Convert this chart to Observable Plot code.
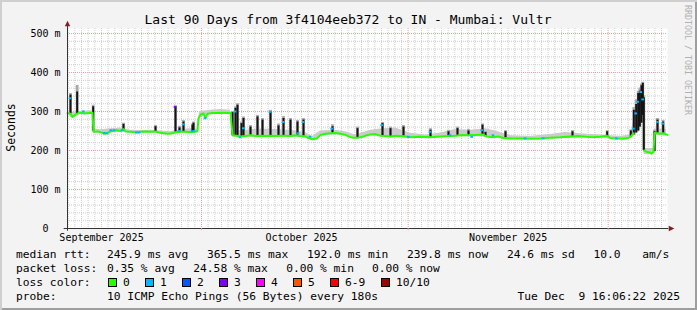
<!DOCTYPE html>
<html>
<head>
<meta charset="utf-8">
<script src="https://cdn.jsdelivr.net/npm/d3@7"></script>
<script src="https://cdn.jsdelivr.net/npm/@observablehq/plot@0.6"></script>
<style>
html, body { margin: 0; padding: 0; background: #ffffff; }
#frame {
  position: relative; width: 697px; height: 310px; overflow: hidden;
  background: #f3f3f3;
  box-shadow: inset 2px 2px 0 #cfcfcf, inset -2px -2px 0 #9e9e9e;
}
#frame svg { position: absolute; left: 0; top: 0; }
</style>
</head>
<body>
<div id="frame"></div>
<script>
// ---------------- data ----------------
const graphStartUTC = Date.UTC(2025, 8, 10, 21, 36); // left edge of the 90-day window
const spanDays = 90;

// median rtt line (day offset from graph start, ms); NaN = gap
const medianDay = [0.0,0.45,0.75,1.05,1.35,1.8,2.55,3.15,3.75,3.9,4.5,4.95,5.55,6.0,6.6,7.35,7.95,8.4,8.7,9.45,10.2,10.95,11.7,12.45,13.2,13.65,14.4,15.15,15.75,16.2,16.95,17.7,18.45,19.2,19.5,19.65,19.95,20.4,20.7,21.0,21.75,22.5,23.25,24.0,24.45,24.75,25.35,25.95,26.7,27.45,28.2,28.95,29.7,30.45,31.2,31.95,32.7,33.45,34.2,34.95,35.7,36.15,36.75,37.35,37.95,38.7,39.45,40.2,40.95,41.7,42.15,42.75,43.65,44.25,44.85,45.45,46.2,46.95,47.7,48.45,49.2,49.95,50.7,51.45,52.95,54.45,55.95,57.15,58.2,59.25,60.15,61.2,62.25,62.85,63.75,64.65,65.4,66.45,67.95,69.45,70.95,72.45,73.95,75.45,76.65,77.7,78.75,79.95,80.85,81.45,82.35,83.25,84.15,84.6,84.9,85.0,86.48,86.85,87.3,87.6,87.9,88.05,88.5,88.95,89.4,90.0];
const medianMs  = [296,294,286,290,294,297,295,296,297,248,249,247,243,245,250,252,250,255,249,248,247,248,249,248,249,246,244,243,244,247,248,248,247,248,250,282,292,295,283,294,296,296,297,296,297,239,238,236,237,239,237,238,237,238,237,238,238,237,239,237,236,232,229,231,240,243,244,245,243,240,236,233,233,235,239,241,242,238,237,236,238,237,236,234,235,234,236,237,238,240,239,240,241,236,234,236,232,231,231,230,231,233,234,236,237,235,234,235,238,232,231,230,232,238,244,NaN,200,197,195,192,197,245,244,243,244,240];

// light grey smoke band (day, low ms, high ms)
const smokeDay  = [0,0.75,1.95,3.45,3.8,3.98,4.95,6.45,7.95,9.45,10.95,12.45,13.95,15.45,16.95,18.45,19.5,19.8,21.45,22.95,24.45,24.75,26.7,28.95,31.2,33.45,35.7,36.75,37.95,40.2,41.7,43.2,45.45,46.95,49.2,51.45,53.7,55.95,58.2,60.45,62.7,64.2,66.45,69.45,72.45,74.7,77.4,79.95,82.95,84.45,85.95,86.32,86.48,87.9,88.05,89.85];
const smokeLow  = [292,283,292,293,293,245,244,246,247,245,245,245,243,241,245,244,246,285,292,293,293,235,234,234,234,234,233,226,237,241,237,230,238,235,234,231,232,233,235,236,234,233,229,228,230,231,232,232,228,230,250,300,190,190,240,237];
const smokeHigh = [300,298,300,302,300,255,253,256,258,252,251,252,250,248,254,256,255,300,303,305,303,250,252,255,254,252,246,236,250,252,248,240,252,255,258,244,240,245,254,252,256,250,238,236,241,246,242,240,236,240,355,365,205,205,255,255];

// dark smoke spikes (day, base ms, dark top ms, grey top ms)
const spikeDay     = [0.45,1.45,3.85,8.4,13.2,16.2,16.8,17.4,18.75,18.9,24.75,25.2,25.5,26.1,26.4,27.45,28.5,29.25,30.45,31.65,32.4,33.45,34.5,35.4,39.75,43.5,47.25,48.45,50.4,54.45,57.15,58.5,60.15,62.25,62.7,65.7,75.75,80.95,84.5,84.95,85.3,85.6,85.85,86.1,86.3,86.45,88.05,88.5,89.35];
const spikeBase    = [294,294,250,250,248,247,248,248,247,248,239,238,238,236,237,239,237,238,238,237,238,237,239,237,244,233,238,236,237,234,237,238,239,241,236,232,236,235,233,240,245,250,260,270,290,200,197,244,244];
const spikeTop     = [342,350,312,267,261,312,258,273,265,270,297,308,316,269,282,260,286,278,299,263,282,278,273,278,261,256,269,256,260,252,248,256,250,265,246,248,248,248,250,303,318,346,352,366,372,335,248,278,273];
const spikeGreyTop = [346,367,316,270,264,314,262,277,268,273,300,312,320,273,286,264,290,282,303,268,287,282,277,282,266,260,272,260,264,256,252,260,254,268,249,251,251,251,253,310,330,352,360,370,375,340,252,282,277];

// median points carrying packet loss (day, ms, lost pings out of 10)
const lossDay   = [0.45,2.45,5.6,6.0,6.55,7.05,8.25,10.4,10.8,16.2,16.8,17.45,18.75,19.05,20.7,25.2,25.95,26.45,30.45,32.4,34.65,35.4,36.45,39.7,47.2,51.2,54.45,57.45,60.7,62.2,63.9,68.7,71.4,82.4,84.95,85.3,85.6,86.05,86.35,88.55,89.35];
const lossMs    = [334,300,245,244,252,252,252,246,246,312,250,267,249,250,283,300,234,257,299,273,244,273,235,256,265,235,248,239,235,252,239,231,231,231,256,295,325,350,331,273,269];
const lossCount = [1,1,1,1,1,1,1,1,1,3,1,1,1,1,1,1,1,1,1,1,1,1,1,1,1,1,1,1,1,1,1,1,1,1,1,1,1,1,1,1,1];

// axes
const yTicks = [0, 100, 200, 300, 400, 500];
const yMax = 512.8;

// loss colour legend
const lossLegendLabels = ["0", "1", "2", "3", "4", "5", "6-9", "10/10"];
const lossColors = ["#26ff00", "#00b8ff", "#0059ff", "#7e00ff", "#ff00ff", "#ff5500", "#ff0000", "#a10000"];

// texts
const titleText = "Last 90 Days from 3f4104eeb372 to IN - Mumbai: Vultr";
const yLabel = "Seconds";
const watermark = "RRDTOOL / TOBI OETIKER";
const rttLabel = "median rtt:";
const rttStats = ["245.9 ms avg", "365.5 ms max", "192.0 ms min", "239.8 ms now", "24.6 ms sd"];
const rttRate = ["10.0", "am/s"];
const lossLabel = "packet loss:";
const lossStats = ["0.35 % avg", "24.58 % max", "0.00 % min", "0.00 % now"];
const colorLabel = "loss color:";
const probeLabel = "probe:";
const probeText = "10 ICMP Echo Pings (56 Bytes) every 180s";
const stampText = "Tue Dec  9 16:06:22 2025";

// ---------------- drawing ----------------
const mono = "'DejaVu Sans Mono', monospace";
const DAY = 864e5;
const at = d => new Date(graphStartUTC + d * DAY);
const t0 = at(0), t1 = at(spanDays);
const keepSpaces = s => s.replace(/ /g, "\u00a0");

const idx = n => d3.range(n);
const mIdx = idx(medianDay.length), sIdx = idx(smokeDay.length),
      kIdx = idx(spikeDay.length), lIdx = idx(lossDay.length);

const minorDays = d3.utcDay.range(t0, t1);
const majorMonths = d3.utcMonth.range(t0, t1);
const monthLabels = d3.utcMonth.range(d3.utcMonth.floor(t0), t1)
  .map(m => d3.utcDay.offset(m, 15)).filter(d => d > t0 && d < t1);
const minorMs = d3.range(20, yMax, 20).filter(v => v % 100 !== 0);

const arrowRight = { draw(ctx, size) { const s = Math.sqrt(size); ctx.moveTo(s*0.6, 0); ctx.lineTo(-s*0.45, -s*0.5); ctx.lineTo(-s*0.45, s*0.5); ctx.closePath(); } };
const arrowUp = { draw(ctx, size) { const s = Math.sqrt(size); ctx.moveTo(0, -s*0.6); ctx.lineTo(-s*0.5, s*0.45); ctx.lineTo(s*0.5, s*0.45); ctx.closePath(); } };

const chart = Plot.plot({
  width: 697, height: 310,
  marginLeft: 67, marginRight: 30, marginTop: 28, marginBottom: 82,
  x: { type: "utc", domain: [t0, t1], axis: null },
  y: { domain: [0, yMax], axis: null },
  color: { type: "identity" },
  style: { background: "transparent", fontFamily: mono, overflow: "visible" },
  marks: [
    Plot.frame({ fill: "white", stroke: null }),
    Plot.ruleX(minorDays.filter(d => d.getUTCDate() !== 1), { stroke: "#cdcdcd", strokeDasharray: "1,1" }),
    Plot.ruleY(minorMs, { stroke: "#cdcdcd", strokeDasharray: "1,1" }),
    Plot.ruleX(majorMonths, { stroke: "#f0a0a0", strokeDasharray: "1,1" }),
    Plot.ruleY(yTicks.filter(v => v > 0), { stroke: "#f0a0a0", strokeDasharray: "1,1" }),
    // smoke
    Plot.areaY(sIdx, { x: i => at(smokeDay[i]), y1: i => smokeLow[i], y2: i => smokeHigh[i], fill: "#cbcbcb" }),
    Plot.ruleX(kIdx, { x: i => at(spikeDay[i]), y1: i => spikeBase[i], y2: i => spikeGreyTop[i], stroke: "#a9a9a9", strokeWidth: 2.8 }),
    Plot.ruleX(kIdx, { x: i => at(spikeDay[i]), y1: i => spikeBase[i], y2: i => spikeTop[i], stroke: "#141414", strokeWidth: 2 }),
    // median
    Plot.line(mIdx, { x: i => at(medianDay[i]), y: i => medianMs[i], stroke: "#26ff00", strokeWidth: 2 }),
    Plot.ruleY(lIdx, { y: i => lossMs[i], x1: i => at(lossDay[i] - 0.2), x2: i => at(lossDay[i] + 0.2), stroke: i => lossColors[lossCount[i]], strokeWidth: 2 }),
    // axes
    Plot.ruleY([0], { x1: () => at(-0.5), x2: () => at(spanDays + 0.2), stroke: "#333333" }),
    Plot.ruleX([t0], { y1: -7, y2: yMax + 10, stroke: "#333333" }),
    Plot.ruleX(majorMonths, { y1: -6, y2: 0, stroke: "#f0a0a0" }),
    Plot.dot([0], { x: () => at(spanDays + 0.55), y: () => 0, symbol: arrowRight, r: 3, fill: "#7f1f1f", stroke: null }),
    Plot.dot([0], { x: () => t0, y: () => yMax + 12, symbol: arrowUp, r: 3, fill: "#7f1f1f", stroke: null }),
    Plot.text(yTicks, { y: d => d, frameAnchor: "left", textAnchor: "end", dx: -7, dy: 0.5,
      text: d => d === 0 ? "0\u00a0\u00a0" : `${d} m`, fontSize: 10, fontFamily: mono, fill: "#000" }),
    Plot.text(monthLabels, { x: d => d, frameAnchor: "bottom", lineAnchor: "bottom", dy: 12.5,
      text: d3.utcFormat("%B %Y"), fontSize: 10, fontFamily: mono, fill: "#000" })
  ]
});

const frame = document.getElementById("frame");
frame.appendChild(chart);

// ---- title, axis label, legend (overlay text layer) ----
const svg = d3.create("svg").attr("width", 697).attr("height", 310).attr("font-family", mono);
function txt(x, y, s, size, anchor = "start", fill = "#000") {
  return svg.append("text").attr("x", x).attr("y", y).attr("font-size", size)
    .attr("text-anchor", anchor).attr("fill", fill).text(keepSpaces(s));
}
txt(348, 24, titleText, 13, "middle");
txt(0, 0, yLabel, 11.5, "middle").attr("transform", "translate(15,127.5) rotate(-90)");
txt(0, 0, watermark, 8.3, "start", "#b0b0b0").attr("transform", "translate(685,5) rotate(90)");

const fs = 11.25;
const L1 = 258.3, L2 = 272.3, L3 = 286.3, L4 = 300.3;
txt(16, L1, rttLabel, fs);
rttStats.forEach((s, i) => txt(107 + i * 100, L1, s, fs));
txt(593.4, L1, rttRate[0], fs);
txt(642.3, L1, rttRate[1], fs);

txt(16, L2, lossLabel, fs);
[107, 193.3, 286.2, 372].forEach((x, i) => txt(x, L2, lossStats[i], fs));

txt(16, L3, colorLabel, fs);
const boxX = [108.5, 145.5, 182.5, 219.5, 256.5, 293.5, 330.5, 381.5];
lossLegendLabels.forEach((lab, i) => {
  svg.append("rect").attr("x", boxX[i]).attr("y", 278.5).attr("width", 8).attr("height", 8)
    .attr("fill", lossColors[i]).attr("stroke", "#000").attr("stroke-width", 1);
  txt(boxX[i] + 14.5, L3, lab, fs);
});

txt(16, L4, probeLabel, fs);
txt(107, L4, probeText, fs);
txt(680, L4, stampText, fs, "end");

frame.appendChild(svg.node());
</script>
</body>
</html>
